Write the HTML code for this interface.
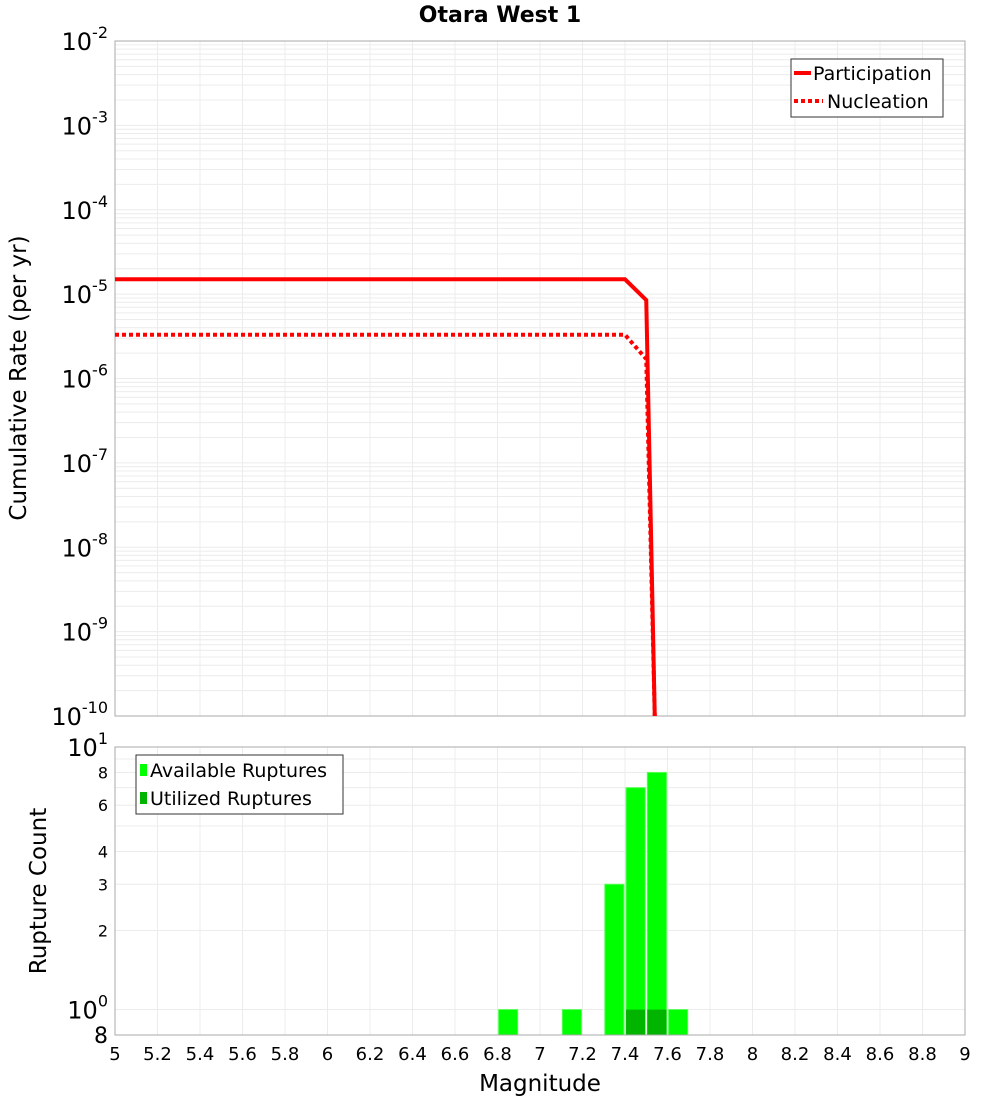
<!DOCTYPE html>
<html><head><meta charset="utf-8"><style>
body{margin:0;background:#fff;font-family:"Liberation Sans","DejaVu Sans",sans-serif}
svg text{font-family:"DejaVu Sans","Liberation Sans",sans-serif}
</style></head><body>
<svg id="c" width="1000" height="1100" viewBox="0 0 1000 1100" xmlns="http://www.w3.org/2000/svg"></svg>
<script>
const partMag=[5,7.4,7.5,7.54];
const partRate=[1.5e-5,1.5e-5,8.5e-6,1e-10];
const nuclMag=[5,7.4,7.5,7.54];
const nuclRate=[3.3e-6,3.3e-6,1.7e-6,1e-10];
const barMag=[6.85,7.15,7.35,7.45,7.55,7.65];
const availCount=[1,1,3,7,8,1];
const utilMag=[7.45,7.55];
const utilCount=[1,1];
const xTicks=[5,5.2,5.4,5.6,5.8,6,6.2,6.4,6.6,6.8,7,7.2,7.4,7.6,7.8,8,8.2,8.4,8.6,8.8,9];
const topExps=[-2,-3,-4,-5,-6,-7,-8,-9,-10];
const botTicks=[1,2,3,4,6,8,10];

const NS="http://www.w3.org/2000/svg",svg=document.getElementById('c');
function mk(t,a,p){const e=document.createElementNS(NS,t);for(const k in a)e.setAttribute(k,a[k]);(p||svg).appendChild(e);return e;}
const X0=115,X1=965;
const xs=m=>X0+(m-5)/4*(X1-X0);
const T0=41,T1=716;
const ysTop=v=>T0+(-2-Math.log10(v))/8*(T1-T0);
const B0=747,B1=1035,bLo=Math.log10(0.8);
const ysBot=v=>B0+(1-Math.log10(v))/(1-bLo)*(B1-B0);

let t=mk('text',{x:500,y:22,'text-anchor':'middle','font-size':22,'font-weight':'bold'});t.textContent='Otara West 1';


const gTop=mk('g',{});
for(let e=-10;e<-2;e++)for(let k=1;k<10;k++){const y=ysTop(k*Math.pow(10,e));mk('line',{x1:X0,x2:X1,y1:y,y2:y,stroke:'#ececec','stroke-width':1},gTop);}
xTicks.forEach(m=>{const x=xs(m);mk('line',{x1:x,x2:x,y1:T0,y2:T1,stroke:'#ececec'},gTop);mk('line',{x1:x,x2:x,y1:B0,y2:B1,stroke:'#ececec'},gTop);});
for(let v=0.8;v<=10.01;v+=(v<1?0.2:1)){const y=ysBot(v);mk('line',{x1:X0,x2:X1,y1:y,y2:y,stroke:'#ececec'},gTop);}
mk('rect',{x:X0,y:T0,width:X1-X0,height:T1-T0,fill:'none',stroke:'#aaa'});
mk('rect',{x:X0,y:B0,width:X1-X0,height:B1-B0,fill:'none',stroke:'#aaa'});

topExps.forEach(e=>{const y=ysTop(Math.pow(10,e));const tx=mk('text',{x:108,y:y+9,'text-anchor':'end','font-size':24});
tx.textContent='10';const s=mk('tspan',{dy:-12,'font-size':16},tx);s.textContent=String(e);
});
t=mk('text',{x:26,y:378,'text-anchor':'middle','font-size':23,transform:'rotate(-90 26 378)'});t.textContent='Cumulative Rate (per yr)';


function line(ms,vs,dash,name){const p=mk('polyline',{points:ms.map((m,i)=>xs(m)+','+Math.min(ysTop(vs[i]),T1)).join(' '),fill:'none',stroke:'#f00','stroke-width':4,'stroke-dasharray':dash||'none'});
}
line(partMag,partRate,null,'participation-line');
line(nuclMag,nuclRate,'4,3','nucleation-line');

const lg=mk('g',{});
mk('rect',{x:791,y:59,width:152,height:58,fill:'#fff',stroke:'#333'},lg);
mk('line',{x1:794,x2:811,y1:73,y2:73,stroke:'#f00','stroke-width':4},lg);
mk('line',{x1:794,x2:823,y1:101,y2:101,stroke:'#f00','stroke-width':4,'stroke-dasharray':'4,3'},lg);
t=mk('text',{x:813,y:80,'font-size':19},lg);t.textContent='Participation';
t=mk('text',{x:827,y:108,'font-size':19},lg);t.textContent='Nucleation';

const bw=xs(5.09)-xs(5);
barMag.forEach((m,i)=>{const y=ysBot(availCount[i]);const r=mk('rect',{x:xs(m)-bw/2,y:y,width:bw,height:B1-y,fill:'#00ff00',stroke:'#55ff55'});
});
utilMag.forEach((m,i)=>{const y=ysBot(utilCount[i]);const r=mk('rect',{x:xs(m)-bw/2,y:y,width:bw,height:B1-y,fill:'#00b400'});
});
mk('rect',{x:X0,y:B0,width:X1-X0,height:B1-B0,fill:'none',stroke:'#aaa'});

botTicks.forEach(v=>{const y=ysBot(v);const tx=mk('text',{x:108,y:y+6,'text-anchor':'end','font-size':16});
if(v==1||v==10){tx.setAttribute('font-size',24);tx.setAttribute('y',y+9);tx.textContent='10';const s=mk('tspan',{dy:-12,'font-size':16},tx);s.textContent=v==1?'0':'1';}
else tx.textContent=String(v);
});
t=mk('text',{x:108,y:1043,'text-anchor':'end','font-size':22});t.textContent='8';
t=mk('text',{x:46,y:891,'text-anchor':'middle','font-size':23,transform:'rotate(-90 46 891)'});t.textContent='Rupture Count';


xTicks.forEach(m=>{const tx=mk('text',{x:xs(m),y:1060,'text-anchor':'middle','font-size':18});tx.textContent=String(m);
});
t=mk('text',{x:540,y:1091,'text-anchor':'middle','font-size':23});t.textContent='Magnitude';


const lb=mk('g',{});
mk('rect',{x:136,y:755,width:207,height:59,fill:'#fff',stroke:'#333'},lb);
mk('rect',{x:140,y:764,width:7,height:12,fill:'#00ff00'},lb);
mk('rect',{x:140,y:792,width:7,height:12,fill:'#00b400'},lb);
t=mk('text',{x:150,y:777,'font-size':19},lb);t.textContent='Available Ruptures';
t=mk('text',{x:150,y:805,'font-size':19},lb);t.textContent='Utilized Ruptures';
</script>
</body></html>
